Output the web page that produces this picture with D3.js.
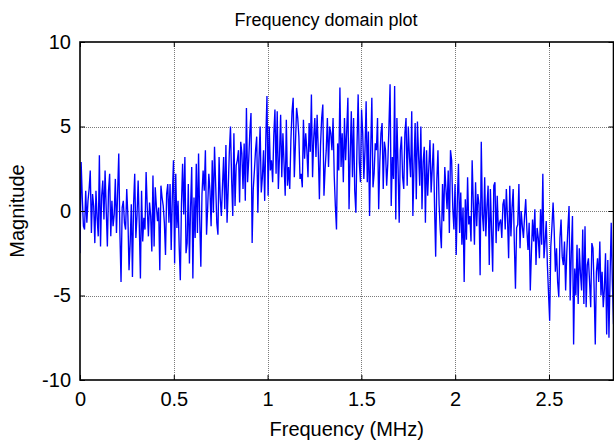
<!DOCTYPE html>
<html>
<head>
<meta charset="utf-8">
<script src="https://cdn.jsdelivr.net/npm/d3@7"></script>
<style>
  html, body { margin: 0; padding: 0; background: #fff; }
  svg { display: block; }
  text { font-family: "Liberation Sans", Arial, sans-serif; fill: #000; }
</style>
</head>
<body>
<svg id="chart" width="614" height="441"></svg>
<script>
// ---- data ----
const titleText = "Frequency domain plot";
const xLabelText = "Frequency (MHz)";
const yLabelText = "Magnitude";
const xTicks = [0, 0.5, 1, 1.5, 2, 2.5];
const xTickLabels = ["0", "0.5", "1", "1.5", "2", "2.5"];
const yTicks = [-10, -5, 0, 5, 10];
const yTickLabels = ["-10", "-5", "0", "5", "10"];
const xMax = 2.844;          // right edge of the visible axis (MHz)
const freqStep = 0.006077;   // spacing of the frequency bins (MHz)
const magnitude = [
  -2.5, 2.9, 0.8, -0.9, -1.1, 1.2, -0.7, 0.6, 1.3, 2.4, -1.3, 1.0, 0.3, -1.9, 1.2, -0.4, -1.5, 3.3, -2.1, 0.9, 1.8, -0.5, 2.4, 0.1, -2.1, 1.2,
  2.2, -1.5, 0.6, -0.9, -0.2, 1.9, -1.3, 1.1, 3.4, -1.3, -4.2, 0.2, 0.6, -0.7, -1.1, 1.3, -0.3, -3.5, -1.9, 0.4, -3.9, 0.4, 2.2, -1.6, -0.3, 1.8,
  -0.8, -4.0, 1.2, -1.8, -0.4, -1.1, 2.3, 0.2, -1.5, 0.5, -0.3, -2.4, 2.1, -2.1, 1.4, 0.3, -0.6, 0.2, -3.5, 1.5, 0.8, 0.3, -0.7, -2.6, 1.0, 1.6,
  -0.7, 1.6, -2.3, 0.9, 3.0, -3.1, 2.2, -1.0, 0.6, -2.1, -4.1, 0.4, 2.8, -0.2, 3.2, -2.5, -1.9, 1.6, -3.1, 0.2, 2.6, -4.0, 0.8, -1.6, 2.8, -1.3,
  3.4, -0.5, -3.3, 1.0, 2.4, 1.2, 3.6, -1.4, 0.2, 2.2, 1.2, -0.9, 3.0, -0.1, 3.8, 1.6, -0.7, -1.4, 3.2, 0.8, -0.3, 1.5, 3.2, 0.1, 3.9, -0.7,
  1.3, 3.5, 5.0, 1.9, -0.3, 4.6, 0.3, 2.7, 3.0, 3.6, 0.5, 4.1, 3.4, 1.3, 4.0, 0.6, 6.1, 1.7, 3.0, 4.7, 5.8, -1.9, 1.3, 2.4, 3.6, 4.4,
  -0.1, 3.0, 5.0, 1.1, 2.0, 3.6, 0.6, 4.3, 6.8, 0.9, 5.0, 2.4, 3.0, 1.7, 4.5, 6.0, 2.2, 5.9, 1.3, 3.3, 5.7, 2.0, 4.6, 2.8, 0.9, 5.4,
  1.5, 2.6, 1.3, 4.2, 5.9, 6.7, 2.0, 4.0, 6.1, 5.5, 4.4, 1.9, 2.2, 1.4, 5.4, 3.1, 4.6, 3.6, 2.0, 5.2, 3.5, 6.9, 2.0, 4.3, 5.5, 3.2,
  5.7, 3.6, 0.7, 3.9, 5.5, 6.3, 0.9, 2.5, 3.6, 5.5, 2.6, 5.0, 4.6, 3.6, 5.5, 2.1, 0.3, -1.1, 4.0, 2.4, 7.3, 2.6, 4.6, 1.7, 5.5, 3.0,
  4.8, 6.7, 0.1, 3.3, 5.9, 2.0, 5.5, 1.2, -0.1, 3.9, 6.9, 2.9, 1.7, 6.0, 4.6, 1.9, 3.6, 6.5, 1.7, 4.7, -0.3, 3.6, 6.7, 1.4, 2.2, 4.0,
  3.6, 5.5, 0.1, 2.9, 4.6, 5.2, 1.3, 4.1, 3.6, 1.5, 2.8, 5.0, 7.5, 0.3, 3.2, 1.9, 7.4, -0.5, 5.5, 2.6, -0.7, 3.6, 4.4, 2.0, 1.3, 4.6,
  5.5, 1.5, 5.0, 3.2, 2.0, 5.9, -0.3, 2.7, 5.2, 0.7, 5.3, 3.3, 1.5, 5.0, 0.1, 2.9, 3.8, -0.7, 3.6, 0.9, 2.6, 4.2, 1.1, 2.5, 4.0, 0.3,
  -2.7, 1.8, 3.6, 0.4, -1.1, -2.2, 1.6, -0.6, 2.6, 1.3, 0.1, 2.4, -1.3, 3.6, 3.0, 0.2, -1.1, 1.6, -2.6, 0.6, 2.8, -1.3, 1.1, -2.0, 0.2, -4.2,
  0.7, -1.7, 2.0, -0.8, -0.3, -1.8, 3.0, 0.5, -2.0, 1.7, -0.9, 1.0, 0.4, -3.8, 4.1, -0.2, -1.2, 2.0, -1.5, 0.3, 1.5, -3.2, 1.3, -1.1, -3.6, 1.5,
  1.7, -1.9, 0.9, -1.2, -0.7, -0.5, -1.6, 0.4, 0.7, -1.1, 1.3, -0.4, -2.8, 1.5, -1.5, 0.2, 1.3, -1.9, -4.6, -1.0, -0.8, 1.6, -2.2, 0.0, -0.9, -1.6,
  -0.3, 0.7, -1.1, -2.3, -0.7, -4.7, -2.4, -0.5, -1.8, 0.1, -3.2, -1.0, -1.6, -2.8, 0.1, -2.0, 2.2, -2.8, -1.8, -0.6, -3.2, -4.9, -6.5, -2.1, -0.9, 0.5,
  -1.2, -3.6, -2.2, -4.2, -5.1, -1.6, -0.5, -2.7, -3.2, -1.8, -4.7, -2.5, -1.0, 0.3, -5.3, -2.4, -0.3, -7.9, -3.4, -5.0, -2.0, -5.5, -2.2, -3.7, -4.7, -1.1,
  -5.5, -0.9, -5.7, -3.2, -2.8, -4.2, -5.7, -1.9, -2.2, -4.6, -7.9, -3.6, -2.8, -4.2, -1.8, -5.0, -3.6, -5.7, -4.6, -2.5, -7.3, -2.9, -7.5, -3.8, -0.7, -4.2, -6.7
];

// ---- layout ----
const svg = d3.select("#chart");
const plot = { left: 80, right: 613.5, top: 42, bottom: 380 };

const x = d3.scaleLinear().domain([0, xMax]).range([plot.left, plot.right]);
const y = d3.scaleLinear().domain([-10, 10]).range([plot.bottom, plot.top]);

const points = magnitude.map((v, i) => ({ f: i * freqStep, v: v }));

// clip
svg.append("defs").append("clipPath").attr("id", "clip")
  .append("rect")
  .attr("x", plot.left).attr("y", plot.top)
  .attr("width", plot.right - plot.left).attr("height", plot.bottom - plot.top);

// grid
const grid = svg.append("g").attr("class", "grid");
grid.selectAll("line.vx").data(xTicks.filter(t => t > 0)).enter().append("line")
  .attr("x1", d => Math.round(x(d)) + 0.5).attr("x2", d => Math.round(x(d)) + 0.5)
  .attr("y1", plot.top).attr("y2", plot.bottom)
  .attr("stroke", "#7a7a7a").attr("stroke-width", 1).attr("stroke-dasharray", "1,1");
grid.selectAll("line.hy").data(yTicks.filter(t => t > -10 && t < 10)).enter().append("line")
  .attr("y1", d => Math.round(y(d)) + 0.5).attr("y2", d => Math.round(y(d)) + 0.5)
  .attr("x1", plot.left).attr("x2", plot.right)
  .attr("stroke", "#7a7a7a").attr("stroke-width", 1).attr("stroke-dasharray", "1,1");

// data line
const line = d3.line().x(d => x(d.f)).y(d => y(d.v));
svg.append("path")
  .datum(points)
  .attr("clip-path", "url(#clip)")
  .attr("fill", "none")
  .attr("stroke", "#0000ff")
  .attr("stroke-width", 1.35)
  .attr("stroke-linejoin", "miter")
  .attr("d", line);

// box
svg.append("rect")
  .attr("x", plot.left).attr("y", plot.top)
  .attr("width", plot.right - plot.left).attr("height", plot.bottom - plot.top)
  .attr("fill", "none").attr("stroke", "#000").attr("stroke-width", 1.6);

// axes with inward ticks via d3.axis
const tickLen = 5;
const xAxisB = d3.axisBottom(x).tickValues(xTicks).tickFormat((d, i) => xTickLabels[i])
  .tickSizeInner(-tickLen).tickSizeOuter(0).tickPadding(12);
const gxb = svg.append("g").attr("transform", `translate(0,${plot.bottom})`).call(xAxisB);
gxb.select(".domain").remove();
gxb.selectAll(".tick line").attr("stroke", "#000");
gxb.selectAll(".tick text").attr("font-size", 20).attr("font-family", "Liberation Sans, Arial, sans-serif");

const xAxisT = d3.axisTop(x).tickValues(xTicks).tickFormat("").tickSizeInner(-tickLen).tickSizeOuter(0);
const gxt = svg.append("g").attr("transform", `translate(0,${plot.top})`).call(xAxisT);
gxt.select(".domain").remove();
gxt.selectAll(".tick line").attr("stroke", "#000");

const yAxisL = d3.axisLeft(y).tickValues(yTicks).tickFormat((d, i) => yTickLabels[i])
  .tickSizeInner(-tickLen).tickSizeOuter(0).tickPadding(9);
const gyl = svg.append("g").attr("transform", `translate(${plot.left},0)`).call(yAxisL);
gyl.select(".domain").remove();
gyl.selectAll(".tick line").attr("stroke", "#000");
gyl.selectAll(".tick text").attr("font-size", 20).attr("font-family", "Liberation Sans, Arial, sans-serif");

const yAxisR = d3.axisRight(y).tickValues(yTicks).tickFormat("").tickSizeInner(-tickLen).tickSizeOuter(0);
const gyr = svg.append("g").attr("transform", `translate(${plot.right},0)`).call(yAxisR);
gyr.select(".domain").remove();
gyr.selectAll(".tick line").attr("stroke", "#000");

// titles
svg.append("text")
  .attr("x", 326).attr("y", 26)
  .attr("text-anchor", "middle").attr("font-size", 18)
  .text(titleText);
svg.append("text")
  .attr("x", (plot.left + plot.right) / 2).attr("y", 436)
  .attr("text-anchor", "middle").attr("font-size", 20)
  .text(xLabelText);
svg.append("text")
  .attr("transform", `translate(24,${(plot.top + plot.bottom) / 2}) rotate(-90)`)
  .attr("text-anchor", "middle").attr("font-size", 20)
  .text(yLabelText);
</script>
</body>
</html>
